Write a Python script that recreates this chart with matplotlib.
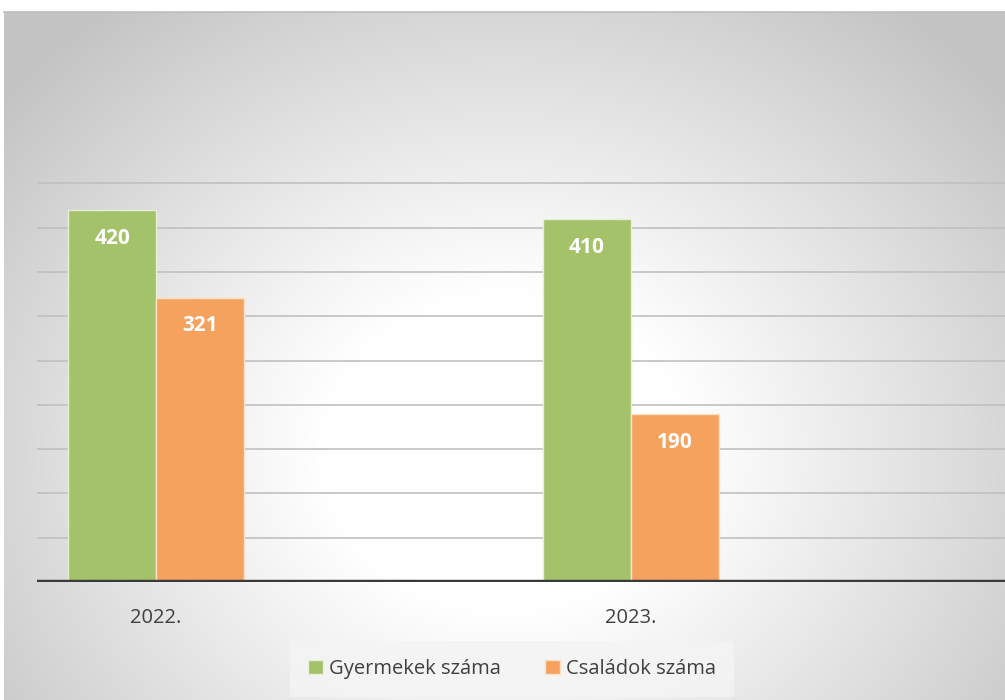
import numpy as np
import matplotlib.pyplot as plt

years = ['2022.', '2023.']
gyermekek = [420, 410]
csaladok = [321, 190]
series_names = ['Gyermekek száma', 'Családok száma']
colors = ['#a4c26a', '#f5a25e']

plt.rcParams['font.family'] = ['Open Sans', 'DejaVu Sans']

W, H = 1005, 700
fig = plt.figure(figsize=(W / 100, H / 100), dpi=100)

# radial gradient background for the chart frame
bg = fig.add_axes([4 / W, 0, 1 - 4 / W, 1 - 12 / H])
yy, xx = np.mgrid[0:688, 0:1001]
r = np.sqrt(((xx - 500) / 640.0) ** 2 + ((yy - 440) / 560.0) ** 2)
t = np.clip((r - 0.28) / 0.72, 0, 1)
shade = 1.0 - 0.23 * t ** 1.05
img = np.dstack([shade, shade, shade])
bg.imshow(img, aspect='auto', extent=[0, 1, 0, 1], origin='upper',
          interpolation='bilinear')
bg.set_axis_off()
fig.add_artist(plt.Line2D([4 / W, 1], [1 - 12 / H, 1 - 12 / H],
                          color='#bdbdbd', lw=1.2))

# plot area
left_px, right_px, bottom_px, top_px = 37, 1005, 582, 100
ax = fig.add_axes([left_px / W, 1 - bottom_px / H,
                   (right_px - left_px) / W, (bottom_px - top_px) / H])
ax.set_facecolor('none')
x = np.arange(len(years))
scale = 475.0
ax.set_xlim((left_px - 156) / scale, (right_px - 156) / scale)
ax.set_ylim(0, (bottom_px - top_px) / 0.886)

for v in range(50, 500, 50):
    ax.axhline(v, color='#c0c0c0', lw=1.2, zorder=1)

bw = 88 / scale
b1 = ax.bar(x - bw / 2, gyermekek, bw, color=colors[0], edgecolor='#e8efd8',
            lw=1, zorder=2, label=series_names[0])
b2 = ax.bar(x + bw / 2, csaladok, bw, color=colors[1], edgecolor='#fbe0c8',
            lw=1, zorder=2, label=series_names[1])

for bars in (b1, b2):
    for rect in bars:
        h = rect.get_height()
        ax.text(rect.get_x() + rect.get_width() / 2, h - 32, f'{int(h)}',
                ha='center', va='center', color='white', fontsize=15,
                fontweight='bold', zorder=3)

ax.axhline(0, color='#3a3a3a', lw=3.2, zorder=4)
for s in ax.spines.values():
    s.set_visible(False)
ax.set_yticks([])
ax.set_xticks(x)
ax.set_xticklabels(years, fontsize=14.5, color='#404040')
ax.tick_params(axis='x', length=0, pad=19)

leg = fig.legend(handles=[b1, b2], labels=series_names, loc='center',
                 bbox_to_anchor=(512 / W, 1 - 669 / H), ncol=2, frameon=True,
                 fontsize=14.5, handlelength=0.75, handleheight=0.75,
                 handletextpad=0.3, columnspacing=2.2, borderpad=0.6,
                 borderaxespad=0, labelcolor='#404040')
leg.get_frame().set_facecolor('#f4f4f4')
leg.get_frame().set_edgecolor('none')
leg.get_frame().set_alpha(0.85)
leg.get_frame().set_boxstyle('square', pad=0.3)

fig.savefig('out.png', dpi=100)
